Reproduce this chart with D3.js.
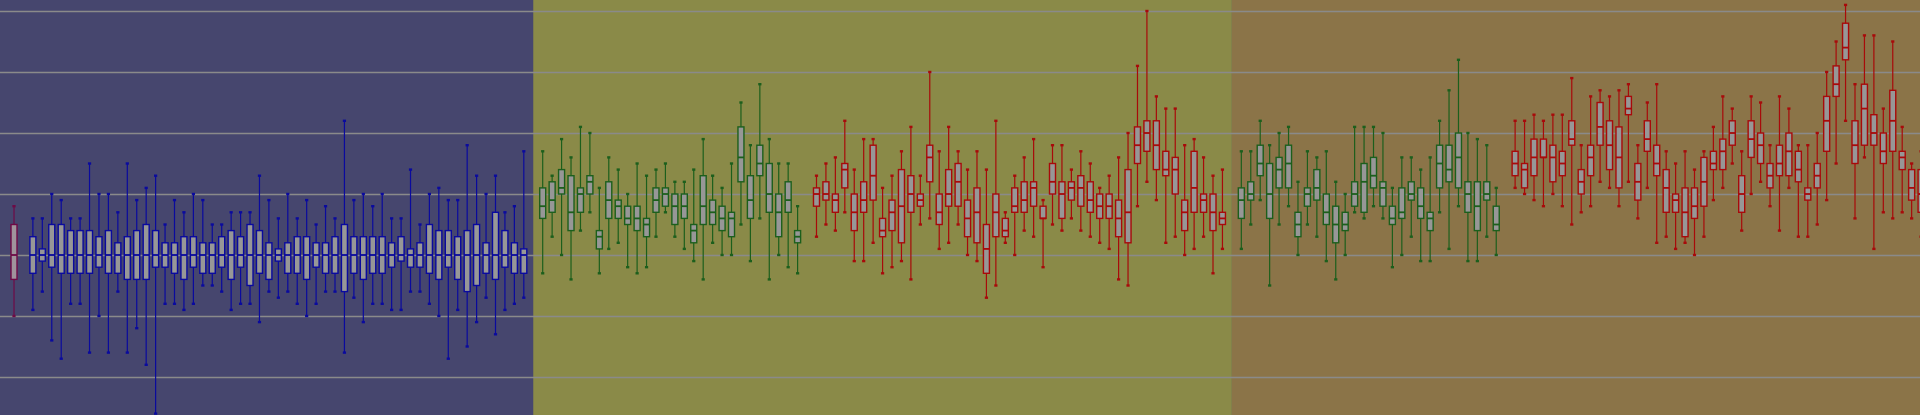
<!DOCTYPE html>
<html>
<head>
<meta charset="utf-8">
<script src="https://cdn.jsdelivr.net/npm/d3@7"></script>
<style>
  html, body { margin: 0; padding: 0; background: #46466e; overflow: hidden; }
  svg { display: block; }
</style>
</head>
<body>
<svg id="chart" width="1920" height="415"></svg>
<script>
// ---- data: each box = [low whisker, q1, median, q3, high whisker] ----
const gridTicks = [0, 10, 20, 30, 40, 50, 60];

const seriesMagenta = [[10,16,20,25,28]];

const seriesBlue = [
  [11,17,20,23,26],[14,19,20,21,26],[6,18,20,25,30],[3,17,20,25,29],[12,17,20,24,26],
  [12,17,20,24,26],[4,17,20,24,35],[10,18,20,23,30],[4,17,20,24,30],[14,17,20,22,27],
  [4,16,20,23,35],[8,16,20,24,29],[2,16,20,25,31],[-6,18,20,24,33],[12,18,20,22,25],
  [12,17,20,22,29],[11,16,20,23,27],[12,18,20,23,30],[15,17,20,22,29],[15,17,20,22,25],
  [14,18,20,23,25],[11,16,20,24,27],[12,18,20,23,27],[12,15,20,25,27],[9,17,20,24,33],
  [14,16,20,22,29],[13,19,20,21,26],[14,17,20,22,30],[12,17,20,23,26],[10,16,20,23,29],
  [12,18,20,22,25],[14,17,20,22,28],[14,17,20,23,26],[4,14,20,25,42],[13,17,20,23,29],
  [9,16,20,23,30],[12,17,20,23,28],[12,17,20,23,30],[11,18,20,22,26],[11,19,20,23,26],
  [14,18,20,21,34],[14,18,20,22,25],[12,17,20,25,30],[10,16,20,24,31],[3,18,20,24,29],
  [11,16,20,23,29],[5,14,20,24,38],[9,15,20,25,33],[13,17,20,22,30],[7,16,20,27,33],
  [11,18,20,24,27],[12,17,20,22,28],[13,17,20,21,37]
];

const seriesGreenA = [
  [17,26,28,31,37],[23,27,29,32,33],[20,30,31,34,39],[16,24,27,33,36],[24,27,30,31,41],
  [27,30,32,33,40],[17,21,23,24,31],[21,26,29,32,36],[22,26,28,29,34],[18,25,26,28,30],
  [17,24,26,28,35],[18,23,25,26,33],[23,27,29,31,34],[27,28,30,31,35],[23,25,28,30,32],
  [21,26,28,30,32],[19,22,24,25,34],[16,25,28,33,39],[22,25,27,29,33],[20,24,26,28,31],
  [20,23,26,27,35],[25,32,36,41,45],[19,26,29,33,38],[26,33,35,38,48],[16,27,30,35,39],
  [20,23,27,30,35],[18,27,29,32,35],[17,22,23,24,28]
];

const seriesRedA = [
  [23,28,30,31,33],[25,29,30,32,35],[24,27,29,30,36],[27,31,34,35,42],[19,24,27,30,34],
  [19,27,29,32,39],[22,29,33,38,39],[17,23,24,26,31],[18,24,27,29,33],[19,22,28,34,37],
  [16,27,30,33,41],[25,28,29,30,33],[26,32,36,38,50],[21,25,27,30,37],[22,28,30,34,41],
  [25,28,32,35,37],[20,23,26,29,34],[19,22,27,31,37],[13,17,21,25,34],[15,23,27,30,42],
  [22,23,24,26,27],[20,27,28,31,33],[24,27,29,32,36],[23,28,31,32,39],[18,26,26,28,29],
  [25,30,32,35,38],[24,26,30,32,38],[26,29,31,32,34],[24,28,31,33,37],[23,27,29,32,35],
  [22,26,28,30,31],[21,26,28,30,33],[16,23,26,29,36],[15,22,27,34,40],[28,35,38,41,51],
  [32,37,40,42,60],[29,34,38,42,46],[22,33,34,37,44],[23,30,34,36,44],[20,24,27,29,38],
  [21,27,31,37,39],[23,27,29,30,36],[17,24,27,30,33],[21,25,26,27,34]
];

const seriesGreenB = [
  [21,26,29,31,37],[25,29,30,32,37],[29,33,35,38,42],[15,26,30,35,38],[25,31,34,36,40],
  [28,31,35,38,41],[20,23,25,27,32],[25,28,30,31,37],[23,29,31,34,36],[19,25,27,30,37],
  [16,22,25,28,32],[20,24,25,27,30],[27,28,30,32,41],[26,27,32,35,41],[28,31,33,36,41],
  [26,28,31,32,40],[18,25,26,28,31],[20,26,27,31,36],[23,29,30,32,36],[19,26,28,31,34],
  [19,24,26,27,36],[27,31,35,38,42],[21,32,34,38,47],[28,31,36,40,52],[19,27,30,32,40],
  [19,24,28,32,39],[23,29,30,32,38],[20,24,25,28,31]
];

const seriesRedB = [
  [31,33,35,37,42],[30,31,34,35,42],[29,33,36,39,43],[28,36,36,39,42],[30,32,36,38,43],
  [28,33,35,37,43],[25,38,39,42,49],[27,30,32,34,38],[28,33,36,38,46],[32,38,41,45,47],
  [31,34,38,42,46],[28,31,36,41,47],[32,43,44,46,48],[26,29,32,35,38],[31,37,39,42,45],
  [22,33,35,38,48],[23,27,31,34,37],[21,27,29,30,35],[22,23,27,31,37],[20,26,28,31,34],
  [23,28,32,36,37],[29,34,35,37,41],[31,34,37,39,46],[35,38,40,42,44],[24,27,30,33,37],
  [30,36,39,42,46],[32,35,38,40,45],[28,31,33,35,38],[24,33,35,38,46],[31,33,37,40,44],
  [23,32,34,37,38],[23,29,30,31,38],[25,31,33,35,40],[29,37,42,46,50],[35,46,48,51,55],
  [42,52,54,58,61],[26,35,38,42,48],[36,38,44,48,56],[21,38,40,43,56],[27,35,37,40,44],
  [26,37,42,47,55],[27,34,36,37,41],[26,29,31,34,35],[23,27,30,34,37]
];

// ---- layout / styles ----
const W = 1920, H = 415;
const styles = {
  magenta: { stroke: "#6e0a46", fill: "#a0949c" },
  blue:    { stroke: "#0a0a9e", fill: "#979797" },
  green:   { stroke: "#1c5f1c", fill: "#979797" },
  red:     { stroke: "#a80a0a", fill: "#979797" }
};

// build category sequence (gaps are empty categories)
const cats = [];
const boxes = [];
let gapN = 0;
function addGap(name) { const k = name || ("gap" + (gapN++)); cats.push(k); return k; }
function addSeries(arr, style, prefix) {
  arr.forEach((d, i) => { const k = prefix + i; cats.push(k); boxes.push({ key: k, v: d, style }); });
}
addSeries(seriesMagenta, "magenta", "m");
addGap();
addSeries(seriesBlue, "blue", "b");
const border1 = addGap("border1");
addSeries(seriesGreenA, "green", "ga");
addGap();
addSeries(seriesRedA, "red", "ra");
const border2 = addGap("border2");
addSeries(seriesGreenB, "green", "gb");
addGap();
addSeries(seriesRedB, "red", "rb");

const step = 9.441;
const x = d3.scalePoint().domain(cats).range([14, 14 + step * (cats.length - 1)]);
const y = d3.scaleLinear().domain([0, 60]).range([377, 11]);

const svg = d3.select("#chart");

// background panels
const panels = [
  { x0: 0, x1: x(border1), color: "#46466e" },
  { x0: x(border1), x1: x(border2), color: "#8a8a48" },
  { x0: x(border2), x1: W, color: "#8b7448" }
];
svg.selectAll("rect.panel").data(panels).join("rect")
  .attr("class", "panel")
  .attr("x", d => d.x0).attr("y", 0)
  .attr("width", d => d.x1 - d.x0).attr("height", H)
  .attr("fill", d => d.color);

// grid lines
const yAxis = d3.axisLeft(y).tickValues(gridTicks).tickSize(-W).tickFormat("");
const gAxis = svg.append("g").attr("transform", "translate(0,0)").call(yAxis);
gAxis.select(".domain").remove();
gAxis.selectAll(".tick line").attr("stroke", "#8a8a8a").attr("stroke-width", 1.6);

// boxes
const bw = 6, capW = 3.2, capH = 2.4;
const g = svg.append("g");
const bx = g.selectAll("g.box").data(boxes).join("g").attr("class", "box")
  .attr("transform", d => `translate(${x(d.key)},0)`);

bx.append("line")
  .attr("x1", 0).attr("x2", 0)
  .attr("y1", d => y(d.v[4])).attr("y2", d => y(d.v[0]))
  .attr("stroke", d => styles[d.style].stroke).attr("stroke-width", 1.2);

bx.append("rect")
  .attr("x", -bw / 2).attr("width", bw)
  .attr("y", d => y(d.v[3]))
  .attr("height", d => Math.max(0.5, y(d.v[1]) - y(d.v[3])))
  .attr("fill", d => styles[d.style].fill)
  .attr("stroke", d => styles[d.style].stroke).attr("stroke-width", 1.4);

bx.append("line")
  .attr("x1", -bw / 2).attr("x2", bw / 2)
  .attr("y1", d => y(d.v[2])).attr("y2", d => y(d.v[2]))
  .attr("stroke", d => styles[d.style].stroke).attr("stroke-width", 1.8);

[0, 4].forEach(idx => {
  bx.append("rect")
    .attr("x", -capW / 2).attr("width", capW)
    .attr("y", d => y(d.v[idx]) - capH / 2).attr("height", capH)
    .attr("fill", d => styles[d.style].stroke);
});
</script>
</body>
</html>
